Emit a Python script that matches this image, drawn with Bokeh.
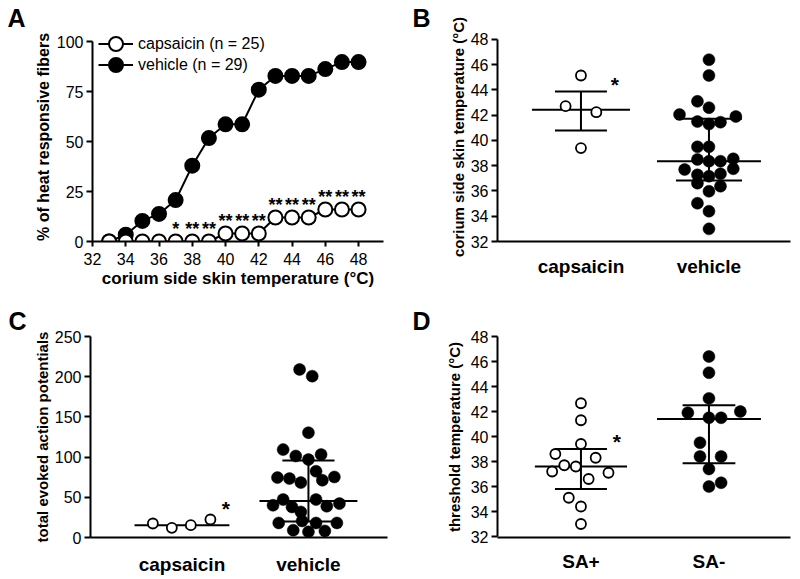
from bokeh.plotting import figure
from bokeh.layouts import row, column
from bokeh.models import FixedTicker, Legend, LegendItem
from bokeh.embed import file_html
from bokeh.resources import INLINE
from bokeh.core.properties import value

FONT = "Liberation Sans"

# ---------------- Panel A data ----------------
a_temps = [33, 34, 35, 36, 37, 38, 39, 40, 41, 42, 43, 44, 45, 46, 47, 48]
a_capsaicin = [0, 0, 0, 0, 0, 0, 0, 4, 4, 4, 12, 12, 12, 16, 16, 16]
a_vehicle = [0, 3.4, 10.3, 13.8, 20.7, 37.9, 51.7, 58.6, 58.6, 75.9, 82.8, 82.8, 82.8, 86.2, 89.7, 89.7]
a_signif = ["", "", "", "", "*", "**", "**", "**", "**", "**", "**", "**", "**", "**", "**", "**"]
a_series = ["capsaicin (n = 25)", "vehicle (n = 29)"]
a_xticks = [32, 34, 36, 38, 40, 42, 44, 46, 48]
a_yticks = [0, 25, 50, 75, 100]
a_xlabel = "corium side skin temperature (°C)"
a_ylabel = "% of heat responsive fibers"

# ---------------- Panel B data ----------------
b_groups = ["capsaicin", "vehicle"]
b_open_vals = [45.15, 42.72, 42.24, 39.4]
b_open_jitter = [0, -0.12, 0.12, 0]
b_filled_vals = [46.4, 45.15, 43.1, 42.6, 42.06, 41.9, 41.5, 41.3, 41.45, 39.5, 39.5, 38.5, 38.36,
                 38.36, 38.55, 37.7, 37.76, 37.28, 37.17, 37.36, 36.62, 36.38, 35.98, 35.03, 34.4, 33.0]
b_filled_jitter = [0, 0, -0.09, 0, -0.23, 0.21, -0.09, 0, 0.09, -0.09, 0, -0.09, 0,
                   0.09, 0.19, -0.19, 0.19, -0.09, 0, 0.09, -0.09, 0.09, 0, -0.09, 0, 0]
b_center = [42.43, 38.36]
b_upper = [43.88, 41.72]
b_lower = [40.79, 36.83]
b_star_y = 44.6
b_yticks = [32, 34, 36, 38, 40, 42, 44, 46, 48]
b_ylabel = "corium side skin temperature (°C)"

# ---------------- Panel C data ----------------
c_groups = ["capsaicin", "vehicle"]
c_open_vals = [17.4, 12, 15.3, 22.4]
c_open_jitter = [-0.23, -0.08, 0.07, 0.225]
c_filled_vals = [209, 200.7, 130.4, 109.3, 101.4, 103.1, 96.9, 82.4, 74.5, 73.3, 75.3, 68.3, 71.2,
                 47.2, 47.2, 40.1, 38.0, 38.9, 42.2, 31.8, 20.6, 18.1, 18.1, 18.1, 9.1, 7.0, 8.2]
c_filled_jitter = [-0.07, 0.03, 0, -0.2, -0.1, 0.1, 0, 0.06, -0.245, -0.15, 0.205, -0.06, 0.11,
                   -0.2, 0.06, -0.28, -0.13, 0.145, 0.245, -0.06, -0.05, -0.235, 0.06, 0.225, -0.12, 0, 0.13]
c_center = [15.3, 45.5]
c_upper = [15.3, 95.8]
c_lower = [15.3, 19.8]
c_star_y = 38
c_yticks = [0, 50, 100, 150, 200, 250]
c_ylabel = "total evoked action potentials"

# ---------------- Panel D data ----------------
d_groups = ["SA+", "SA-"]
d_open_vals = [42.66, 41.3, 39.4, 38.6, 38.3, 37.7, 37.6, 37.2, 37.1, 36.6, 35.1, 34.4, 33.0]
d_open_jitter = [0, 0, 0, -0.2, 0.115, -0.13, -0.04, -0.225, 0.215, 0.06, -0.095, 0, 0]
d_filled_vals = [46.4, 45.1, 43.05, 41.9, 42.0, 41.5, 41.5, 39.5, 38.4, 38.4, 37.4, 36.0, 36.3]
d_filled_jitter = [0, 0, 0, -0.165, 0.245, 0, 0.095, -0.07, -0.07, 0.095, 0, 0, 0.095]
d_center = [37.6, 41.4]
d_upper = [39.0, 42.5]
d_lower = [35.8, 37.86]
d_star_y = 39.76
d_yticks = [32, 34, 36, 38, 40, 42, 44, 46, 48]
d_ylabel = "threshold temperature (°C)"


def base_fig(width, height, borders, x_range, y_range, letter, letter_offset, letter_standoff):
    left, right, top, bottom = borders
    p = figure(width=width, height=height, x_range=x_range, y_range=y_range,
               output_backend="svg", toolbar_location=None,
               min_border_left=left, min_border_right=right,
               min_border_top=top, min_border_bottom=bottom)
    p.outline_line_color = None
    p.xgrid.visible = False
    p.ygrid.visible = False
    p.background_fill_color = "white"
    p.title.text = letter
    p.title.align = "left"
    p.title.offset = letter_offset
    p.title.standoff = letter_standoff
    p.title.text_font = FONT
    p.title.text_font_size = "25px"
    p.title.text_font_style = "bold"
    p.title.text_color = "black"
    for ax in (p.xaxis[0], p.yaxis[0]):
        ax.axis_line_width = 2
        ax.axis_line_color = "black"
        ax.major_tick_line_width = 2
        ax.major_tick_line_color = "black"
        ax.minor_tick_line_color = None
        ax.major_label_text_font = FONT
        ax.major_label_text_color = "black"
        ax.axis_label_text_font = FONT
        ax.axis_label_text_font_style = "bold"
        ax.axis_label_text_color = "black"
    return p


# ---------------- Panel A ----------------
pA = base_fig(400, 293, (92, 17, 32, 52), (32, 49.5), (0, 104.5), "A", -85, 1)
pA.xaxis.ticker = FixedTicker(ticks=a_xticks)
pA.yaxis.ticker = FixedTicker(ticks=a_yticks)
pA.yaxis.bounds = (0, 100)
pA.xaxis.major_tick_out = 5
pA.xaxis.major_tick_in = 0
pA.yaxis.major_tick_out = 6
pA.yaxis.major_tick_in = 0
pA.xaxis.major_label_text_font_size = "16px"
pA.yaxis.major_label_text_font_size = "16px"
pA.xaxis.major_label_standoff = 6
pA.yaxis.major_label_standoff = 3
pA.xaxis.axis_label = a_xlabel
pA.yaxis.axis_label = a_ylabel
pA.xaxis.axis_label_text_font_size = "17px"
pA.yaxis.axis_label_text_font_size = "16px"
pA.xaxis.axis_label_standoff = 1
pA.yaxis.axis_label_standoff = 2

rv_line = pA.line(a_temps, a_vehicle, line_color="black", line_width=2)
rv_pts = pA.scatter(a_temps, a_vehicle, size=14, fill_color="black", line_color="black", line_width=2)
rc_line = pA.line(a_temps, a_capsaicin, line_color="black", line_width=2)
rc_pts = pA.scatter(a_temps, a_capsaicin, size=14, fill_color="white", line_color="black", line_width=2)
pA.text(x=a_temps, y=a_capsaicin, text=a_signif, y_offset=-13, text_align="center",
        text_baseline="alphabetic", text_font=value(FONT), text_font_size="18px",
        text_font_style="bold", text_color="black")


def legend_for(label, renderers, loc):
    return Legend(items=[LegendItem(label=label, renderers=renderers)],
                  location=loc, glyph_width=35, glyph_height=35, spacing=0,
                  padding=0, margin=0, label_standoff=5, label_text_font=FONT,
                  label_text_font_size="16px", label_text_color="black",
                  background_fill_alpha=0, border_line_color=None)


pA.add_layout(legend_for(a_series[0], [rc_line, rc_pts], (6, 180)))
pA.add_layout(legend_for(a_series[1], [rv_line, rv_pts], (6, 159)))


# ---------------- dot panels ----------------
def dot_panel(width, height, borders, x_range, y_range, y_ticks, y_label, groups,
              open_vals, open_jit, filled_vals, filled_jit, center, upper, lower,
              center_hw, cap_hw, star_y, star_dx, letter, letter_offset, letter_standoff,
              label_standoff, ylabel_standoff):
    p = base_fig(width, height, borders, x_range, y_range, letter, letter_offset, letter_standoff)
    p.xaxis.ticker = FixedTicker(ticks=[1, 2])
    p.xaxis.major_label_overrides = {1: groups[0], 2: groups[1]}
    p.xaxis.major_tick_out = 0
    p.xaxis.major_tick_in = 0
    p.xaxis.major_label_text_font_size = "19px"
    p.xaxis.major_label_text_font_style = "bold"
    p.xaxis.major_label_standoff = label_standoff
    p.yaxis.ticker = FixedTicker(ticks=y_ticks)
    p.yaxis.bounds = (y_ticks[0], y_ticks[-1])
    p.yaxis.major_tick_out = 6
    p.yaxis.major_tick_in = 0
    p.yaxis.major_label_text_font_size = "16px"
    p.yaxis.major_label_standoff = 3
    p.yaxis.axis_label = y_label
    p.yaxis.axis_label_text_font_size = "15px"
    p.yaxis.axis_label_standoff = ylabel_standoff

    gx = [1, 2]
    p.segment(x0=[g - w for g, w in zip(gx, center_hw)], y0=center,
              x1=[g + w for g, w in zip(gx, center_hw)], y1=center,
              line_color="black", line_width=2)
    p.segment(x0=gx, y0=lower, x1=gx, y1=upper, line_color="black", line_width=2)
    p.segment(x0=[g - w for g, w in zip(gx, cap_hw)], y0=upper,
              x1=[g + w for g, w in zip(gx, cap_hw)], y1=upper,
              line_color="black", line_width=2)
    p.segment(x0=[g - w for g, w in zip(gx, cap_hw)], y0=lower,
              x1=[g + w for g, w in zip(gx, cap_hw)], y1=lower,
              line_color="black", line_width=2)

    p.scatter([1 + j for j in open_jit], open_vals, size=10, fill_color="white",
              line_color="black", line_width=1.8)
    p.scatter([2 + j for j in filled_jit], filled_vals, size=12, fill_color="black",
              line_color="black", line_width=0.5)
    p.text(x=[1], y=[star_y], text=["*"], x_offset=star_dx, y_offset=2, text_align="center",
           text_baseline="alphabetic", text_font=value(FONT), text_font_size="21px",
           text_font_style="bold", text_color="black")
    return p


# B: frame top raised to match A's (axis line still bounded 32..48)
pB = dot_panel(400, 293, (97, 10, 32, 52), (0.348, 2.637), (32, 48.554), b_yticks, b_ylabel, b_groups,
               b_open_vals, b_open_jitter, b_filled_vals, b_filled_jitter,
               b_center, b_upper, b_lower, [0.383, 0.406], [0.203, 0.258],
               b_star_y, 34, "B", -85, 1, 14, 1)

pC = dot_panel(400, 286, (90, 13, 43, 42), (0.277, 2.625), (0, 250), c_yticks, c_ylabel, c_groups,
               c_open_vals, c_open_jitter, c_filled_vals, c_filled_jitter,
               c_center, c_upper, c_lower, [0.375, 0.387], [0.0, 0.206],
               c_star_y, 44, "C", -82, 4, 16, 1)

pD = dot_panel(400, 286, (97, 10, 43, 42), (0.348, 2.637), (31.92, 48), d_yticks, d_ylabel, d_groups,
               d_open_vals, d_open_jitter, d_filled_vals, d_filled_jitter,
               d_center, d_upper, d_lower, [0.36, 0.406], [0.203, 0.206],
               d_star_y, 36, "D", -85, 3, 13, 5)

layout = column(row(pA, pB, spacing=0), row(pC, pD, spacing=0), spacing=0)

with open("out.html", "w") as f:
    f.write(file_html(layout, INLINE))
